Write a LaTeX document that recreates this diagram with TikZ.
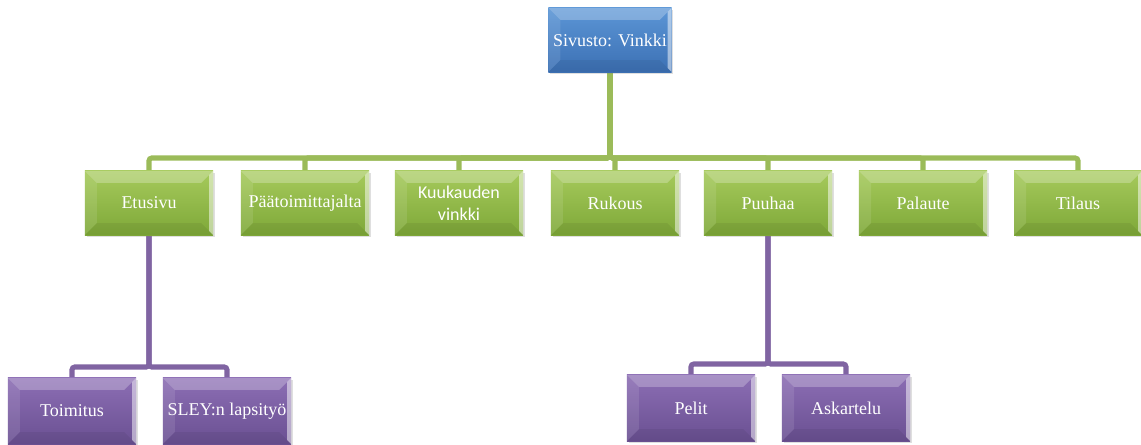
\documentclass[tikz,border=0pt]{standalone}
\usepackage{fontspec}
\setmainfont{Liberation Serif}
\newfontfamily\kfont{Carlito}
\usetikzlibrary{positioning,calc,shadows,backgrounds}
\definecolor{bluetop}{RGB}{92,150,214}
\definecolor{bluebot}{RGB}{60,112,180}
\definecolor{greentop}{RGB}{166,202,92}
\definecolor{greenbot}{RGB}{126,168,56}
\definecolor{purpletop}{RGB}{140,110,180}
\definecolor{purplebot}{RGB}{106,80,146}
\definecolor{greenline}{RGB}{155,187,89}
\definecolor{purpleline}{RGB}{128,100,162}

\begin{document}
\begin{tikzpicture}[x=0.025cm,y=-0.025cm,
		bevel/.style={path picture={
			\fill[white,opacity=0.25] (path picture bounding box.north west) -- (path picture bounding box.north east) -- ($(path picture bounding box.north east)+(-0.3cm,-0.3cm)$) -- ($(path picture bounding box.north west)+(0.3cm,-0.3cm)$) -- cycle;
			\fill[white,opacity=0.1] (path picture bounding box.north west) -- ($(path picture bounding box.north west)+(0.3cm,-0.3cm)$) -- ($(path picture bounding box.south west)+(0.3cm,0.3cm)$) -- (path picture bounding box.south west) -- cycle;
			\fill[white,opacity=0.5] (path picture bounding box.north east) -- ($(path picture bounding box.north east)+(-0.1cm,-0.1cm)$) -- ($(path picture bounding box.south east)+(-0.1cm,0.1cm)$) -- (path picture bounding box.south east) -- cycle;
			\fill[black,opacity=0.06] (path picture bounding box.south west) -- ($(path picture bounding box.south west)+(0.3cm,0.3cm)$) -- ($(path picture bounding box.south east)+(-0.3cm,0.3cm)$) -- (path picture bounding box.south east) -- cycle;
		}},
		box/.style={bevel,text=white,inner sep=1pt,minimum width=3.2cm,minimum height=1.6cm,
			font=\rmfamily\fontsize{12.8pt}{15.6pt}\selectfont,
			drop shadow={shadow xshift=0.04cm,shadow yshift=-0.06cm,opacity=0.25}},
		site/.style={box,top color=bluetop,bottom color=bluebot,minimum width=3.075cm},
		page/.style={box,top color=greentop,bottom color=greenbot},
		subpage/.style={box,top color=purpletop,bottom color=purplebot,minimum height=1.65cm},
		gline/.style={draw=greenline,line width=3.6pt,rounded corners=2pt},
		pline/.style={draw=purpleline,line width=3.6pt,rounded corners=2pt},
		]
		\useasboundingbox (0,0) rectangle (1141,445);

		% top
		\path (610,40) node[site] (root) {Sivusto: Vinkki};

		% pages
		\path (149,203) node[page] (etusivu) {Etusivu};
		\path (305,203) node[page] (paatoim) {Päätoimittajalta};
		\path (459,203) node[page,align=center] (kuukausi) {\kfont Kuukauden\\\kfont vinkki};
		\path (615,203) node[page] (rukous) {Rukous};
		\path (768,203) node[page] (puuhaa) {Puuhaa};
		\path (923,203) node[page] (palaute) {Palaute};
		\path (1078,203) node[page] (tilaus) {Tilaus};

		% subpages
		\path (72,411) node[subpage] (toimitus) {Toimitus};
		\path (227,411) node[subpage] (sley) {SLEY:n lapsityö};
		\path (691,408) node[subpage] (pelit) {Pelit};
		\path (846,408) node[subpage] (askartelu) {Askartelu};

		\coordinate (bus) at (0,158);
		\coordinate (ebus) at (0,367);
		\coordinate (pbus) at (0,364);

		\begin{scope}[on background layer]
			\foreach \c in {etusivu,paatoim,kuukausi,rukous,puuhaa,palaute,tilaus}
				\draw[gline] (root.south) |- (\c.north |- bus) -- (\c.north);
			\foreach \c in {toimitus,sley}
				\draw[pline] (etusivu.south) |- (\c.north |- ebus) -- (\c.north);
			\foreach \c in {pelit,askartelu}
				\draw[pline] (puuhaa.south) |- (\c.north |- pbus) -- (\c.north);
		\end{scope}

	\end{tikzpicture}
\end{document}
